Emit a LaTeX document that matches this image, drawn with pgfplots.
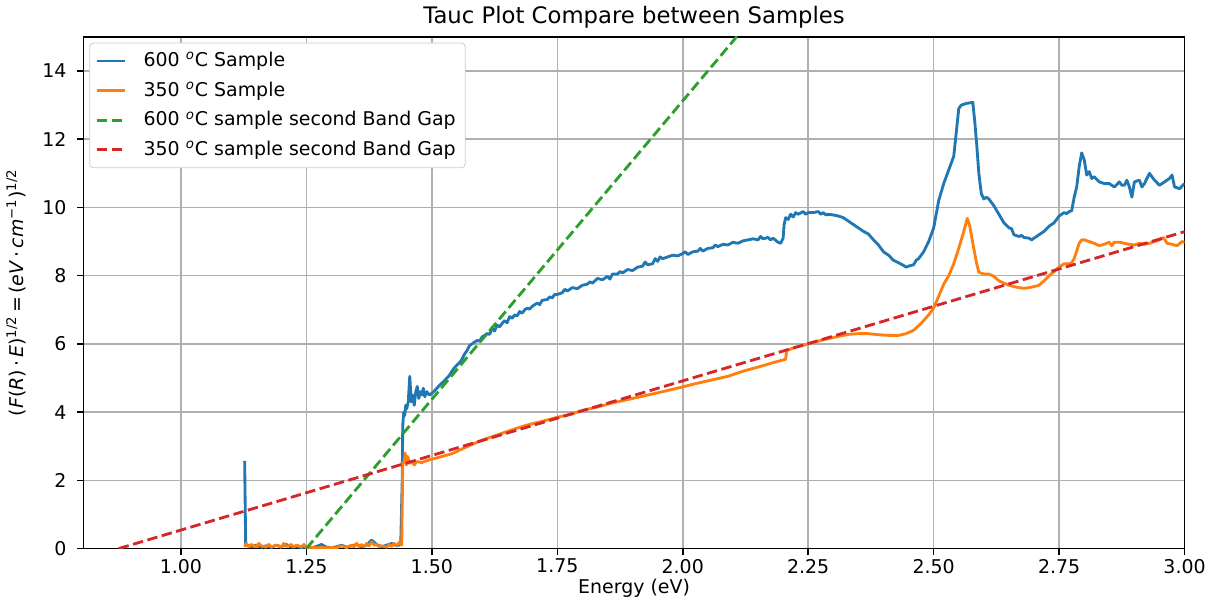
\documentclass[border=0pt]{standalone}
\usepackage{fontspec}
\setmainfont{DejaVu Sans}
\usepackage{pgfplots}
\pgfplotsset{compat=1.18}
\definecolor{c1}{HTML}{1F77B4}
\definecolor{c2}{HTML}{FF7F0E}
\definecolor{c3}{HTML}{2CA02C}
\definecolor{c4}{HTML}{D62728}
\definecolor{gridc}{HTML}{B0B0B0}
\begin{document}
\begin{tikzpicture}
\begin{axis}[
  scale only axis, width=581pt, height=270pt,
  xmin=0.806, xmax=3.0, ymin=0, ymax=15,
  xtick={1,1.25,1.5,1.75,2,2.25,2.5,2.75,3},
  ytick={0,2,4,6,8,10,12,14},
  xtick pos=bottom, ytick pos=left,
  grid=major, grid style={color=gridc, line width=0.8pt},
  axis line style={line width=0.8pt},
  tick align=outside, major tick length=3.5pt,
  tick style={line width=0.8pt, black},
  /pgf/number format/assume math mode=true,
  xticklabel style={/pgf/number format/fixed, /pgf/number format/fixed zerofill, /pgf/number format/precision=2, yshift=1.5pt},
  yticklabel style={xshift=-2pt},
  tick label style={font=\fontsize{10}{12}\selectfont},
  title={Tauc Plot Compare between Samples},
  title style={font=\fontsize{12}{14}\selectfont, yshift=-5pt},
  xlabel={Energy (eV)},
  xlabel style={font=\fontsize{10}{12}\selectfont, yshift=4pt},
  ylabel={(\textit{F}(\textit{R})\,·\,\textit{E})\textsuperscript{1/2}\,=\,(\textit{eV}\,·\,\textit{cm}\textsuperscript{−1})\textsuperscript{1/2}},
  ylabel style={font=\fontsize{10}{12}\selectfont, yshift=2pt},
  legend style={at={(0,1)}, anchor=north west, xshift=3pt, yshift=-3pt, draw=black!20, rounded corners=2pt, font=\fontsize{10}{12}\selectfont, row sep=2.5pt, column sep=7pt, inner sep=3pt},
  legend cell align=left,
  legend image code/.code={\draw[#1] (0pt,0pt) -- (15pt,0pt);},
  every axis plot/.append style={line width=1.5pt, line join=round},
]
\addplot[c1] coordinates {
(1.127,2.57) (1.129,0.15) (1.13,0.12) (1.14,0.05) (1.15,0.10) (1.16,0.04) (1.17,0.08) (1.18,0.03) (1.19,0.10) (1.20,0.05) (1.21,0.12) (1.22,0.04) (1.23,0.06) (1.24,0.03) (1.25,0.05) (1.26,0.02) (1.27,0.06) (1.28,0.12) (1.29,0.04) (1.30,0.03) (1.31,0.05) (1.32,0.10) (1.33,0.04) (1.34,0.08) (1.35,0.12) (1.36,0.05) (1.37,0.10) (1.38,0.25) (1.39,0.12) (1.40,0.05) (1.41,0.10) (1.42,0.15) (1.43,0.08) (1.438,0.12)
(1.441,2.0) (1.442,3.6) (1.444,4.0) (1.446,3.9) (1.448,4.2) (1.450,4.1) (1.453,4.3) (1.456,5.05) (1.459,4.3) (1.462,4.5) (1.465,4.2) (1.468,4.6) (1.471,4.75) (1.474,4.4) (1.477,4.6) (1.480,4.5) (1.483,4.7) (1.486,4.45) (1.490,4.6) (1.495,4.5) (1.50,4.55) (1.505,4.62) (1.51,4.7) (1.515,4.78) (1.52,4.85) (1.525,4.92) (1.53,5.0) (1.535,5.08) (1.54,5.2) (1.545,5.3) (1.55,5.38) (1.555,5.45) (1.56,5.55) (1.565,5.7) (1.57,5.8) (1.575,5.95) (1.58,6.0) (1.585,6.05) (1.59,6.1) (1.595,6.08) (1.60,6.2) (1.605,6.25) (1.61,6.3) (1.615,6.28) (1.62,6.45) (1.625,6.38) (1.63,6.55) (1.635,6.5) (1.64,6.6) (1.645,6.68) (1.65,6.62) (1.655,6.8) (1.66,6.75) (1.665,6.85) (1.67,6.82) (1.675,6.95) (1.68,6.9) (1.685,7.0) (1.69,7.05) (1.695,7.02) (1.70,7.1) (1.71,7.2) (1.715,7.15) (1.72,7.28) (1.73,7.3) (1.735,7.38) (1.74,7.35) (1.745,7.45) (1.75,7.45) (1.76,7.5) (1.765,7.6) (1.77,7.55) (1.78,7.65) (1.79,7.62) (1.80,7.72) (1.81,7.75) (1.815,7.82) (1.82,7.78) (1.83,7.92) (1.84,7.88) (1.85,7.98) (1.855,7.9) (1.86,8.05) (1.87,8.05) (1.875,8.12) (1.88,8.08) (1.89,8.18) (1.90,8.15) (1.91,8.25) (1.92,8.28) (1.925,8.4) (1.93,8.32) (1.94,8.35) (1.945,8.5) (1.95,8.42) (1.955,8.55) (1.96,8.5) (1.97,8.55) (1.98,8.6) (1.99,8.58) (2.00,8.65) (2.005,8.7) (2.01,8.62) (2.02,8.7) (2.03,8.72) (2.035,8.8) (2.04,8.72) (2.05,8.8) (2.06,8.82) (2.065,8.9) (2.07,8.85) (2.08,8.92) (2.09,8.9) (2.10,8.98) (2.11,8.95) (2.12,9.02) (2.13,9.05) (2.14,9.08) (2.15,9.05) (2.155,9.15) (2.16,9.08) (2.17,9.12) (2.175,9.05) (2.18,9.1) (2.19,8.98) (2.195,8.95) (2.20,9.1) (2.202,9.5) (2.205,9.7) (2.21,9.65) (2.215,9.8) (2.22,9.72) (2.225,9.85) (2.23,9.8) (2.24,9.88) (2.245,9.8) (2.25,9.85) (2.26,9.85) (2.27,9.88) (2.275,9.8) (2.28,9.85) (2.285,9.78) (2.29,9.8) (2.30,9.78) (2.31,9.75) (2.32,9.7) (2.33,9.6) (2.34,9.5) (2.35,9.4) (2.36,9.3) (2.37,9.22) (2.38,9.05) (2.39,8.9) (2.40,8.7) (2.41,8.6) (2.42,8.45) (2.43,8.38) (2.44,8.3) (2.445,8.25) (2.45,8.28) (2.46,8.32) (2.465,8.45) (2.47,8.5) (2.48,8.7) (2.49,9.0) (2.50,9.4) (2.505,9.8) (2.51,10.2) (2.52,10.7) (2.53,11.1) (2.535,11.3) (2.54,11.5) (2.545,12.2) (2.55,12.9) (2.555,13.0) (2.565,13.05) (2.578,13.08) (2.582,12.5) (2.586,11.8) (2.59,11.0) (2.595,10.4) (2.60,10.25) (2.605,10.3) (2.61,10.25) (2.62,10.05) (2.63,9.8) (2.64,9.55) (2.65,9.4) (2.655,9.38) (2.66,9.2) (2.67,9.15) (2.675,9.18) (2.68,9.12) (2.69,9.1) (2.695,9.05) (2.70,9.1) (2.71,9.2) (2.72,9.3) (2.73,9.45) (2.74,9.55) (2.75,9.75) (2.755,9.8) (2.76,9.85) (2.765,9.82) (2.77,9.88) (2.775,9.9) (2.78,10.3) (2.785,10.6) (2.79,11.2) (2.795,11.6) (2.80,11.4) (2.805,10.95) (2.81,11.05) (2.815,10.85) (2.82,10.9) (2.83,10.75) (2.84,10.7) (2.85,10.7) (2.86,10.6) (2.87,10.75) (2.875,10.65) (2.88,10.65) (2.885,10.8) (2.89,10.6) (2.895,10.3) (2.90,10.75) (2.91,10.8) (2.915,10.6) (2.92,10.7) (2.93,11.0) (2.94,10.8) (2.95,10.65) (2.96,10.75) (2.97,10.85) (2.975,10.95) (2.98,10.6) (2.99,10.55) (3.0,10.7)
};
\addlegendentry{600 \textsuperscript{\textit{o}}C Sample}
\addplot[c2] coordinates {
(1.127,0.05) (1.13,0.15) (1.135,0.05) (1.14,0.12) (1.15,0.05) (1.155,0.15) (1.16,0.08) (1.17,0.04) (1.175,0.12) (1.18,0.05) (1.19,0.1) (1.20,0.04) (1.205,0.15) (1.21,0.06) (1.22,0.12) (1.225,0.04) (1.23,0.1) (1.24,0.05) (1.245,0.12) (1.25,0.03) (1.26,0.04) (1.27,0.02) (1.28,0.03) (1.29,0.02) (1.30,0.03) (1.31,0.02) (1.32,0.08) (1.33,0.03) (1.34,0.1) (1.345,0.05) (1.35,0.15) (1.355,0.05) (1.36,0.12) (1.365,0.06) (1.37,0.15) (1.375,0.08) (1.38,0.2) (1.385,0.1) (1.39,0.12) (1.395,0.05) (1.40,0.08) (1.41,0.04) (1.415,0.12) (1.42,0.06) (1.425,0.15) (1.43,0.08) (1.435,0.18) (1.44,0.1)
(1.442,2.5) (1.445,2.55) (1.447,2.8) (1.449,2.45) (1.452,2.7) (1.455,2.5) (1.46,2.55) (1.465,2.45) (1.47,2.55) (1.48,2.52) (1.49,2.58) (1.50,2.62) (1.52,2.7) (1.54,2.78) (1.56,2.92) (1.58,3.05) (1.60,3.18) (1.62,3.28) (1.64,3.38) (1.66,3.48) (1.68,3.58) (1.70,3.66) (1.72,3.73) (1.75,3.85) (1.78,3.95) (1.80,4.05) (1.83,4.15) (1.86,4.27) (1.90,4.4) (1.93,4.5) (1.96,4.6) (2.00,4.74) (2.03,4.85) (2.06,4.95) (2.09,5.05) (2.12,5.2) (2.15,5.32) (2.18,5.45) (2.205,5.55) (2.207,5.8) (2.22,5.88) (2.25,6.0) (2.28,6.12) (2.31,6.22) (2.33,6.28) (2.35,6.3) (2.37,6.3) (2.39,6.27) (2.41,6.25) (2.43,6.25) (2.445,6.3) (2.46,6.4) (2.475,6.6) (2.49,6.85) (2.50,7.05) (2.51,7.4) (2.52,7.75) (2.53,8.0) (2.54,8.35) (2.55,8.8) (2.56,9.3) (2.567,9.68) (2.572,9.45) (2.578,8.95) (2.585,8.4) (2.59,8.1) (2.60,8.05) (2.61,8.05) (2.62,7.98) (2.63,7.85) (2.64,7.78) (2.65,7.72) (2.66,7.68) (2.67,7.65) (2.68,7.63) (2.69,7.65) (2.70,7.68) (2.71,7.72) (2.72,7.85) (2.73,8.0) (2.74,8.12) (2.75,8.25) (2.76,8.35) (2.77,8.35) (2.775,8.38) (2.78,8.5) (2.79,8.95) (2.795,9.05) (2.80,9.05) (2.81,9.0) (2.82,8.95) (2.83,8.88) (2.84,8.92) (2.85,8.98) (2.855,8.88) (2.86,8.98) (2.87,8.98) (2.88,8.95) (2.89,8.92) (2.90,8.9) (2.91,8.95) (2.92,8.92) (2.93,8.95) (2.94,9.0) (2.95,9.05) (2.958,9.12) (2.965,8.95) (2.975,8.92) (2.985,8.88) (2.995,9.0) (3.0,8.98)
};
\addlegendentry{350 \textsuperscript{\textit{o}}C Sample}
\addplot[c3, dash pattern=on 5.5pt off 2.4pt] coordinates {(1.25,0) (2.25,17.5)};
\addlegendentry{600 \textsuperscript{\textit{o}}C sample second Band Gap}
\addplot[c4, dash pattern=on 5.5pt off 2.4pt] coordinates {(0.876,0) (3.0,9.29)};
\addlegendentry{350 \textsuperscript{\textit{o}}C sample second Band Gap}
\end{axis}
\end{tikzpicture}
\end{document}
